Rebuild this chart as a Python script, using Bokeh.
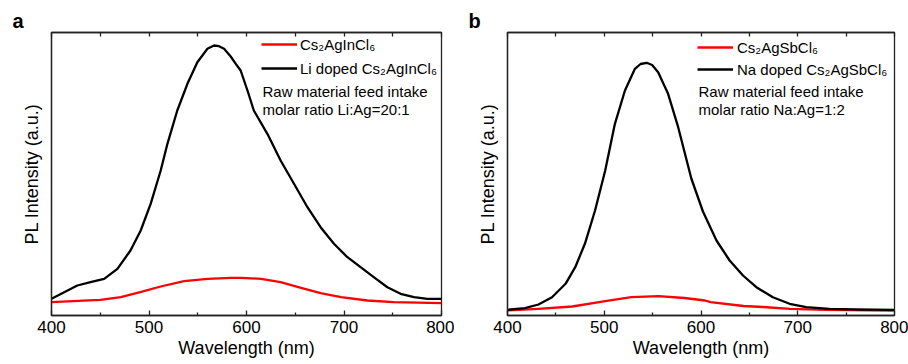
from bokeh.plotting import figure
from bokeh.layouts import row
from bokeh.models import Range1d, LinearAxis, FixedTicker, Label, Legend, LegendItem
from bokeh.embed import file_html
from bokeh.resources import INLINE

# ---------------- data ----------------
# Panel a
a_black_x = [400, 413, 426.5, 440, 454, 467.6, 481, 491.5, 501.7, 512, 518.9, 529, 539.4, 549.6,
             559.9, 566.7, 571.8, 577, 583.8, 589, 594, 601, 607.5, 621.4, 635, 648.7, 662.5,
             676, 689.7, 703.5, 717, 730.5, 744.5, 758, 771.8, 785.5, 800]
a_black_y = [16.7, 23.3, 30, 33.3, 36.7, 46.7, 65, 85, 111.7, 145, 171.7, 205, 231.7, 253.3,
             266.7, 270, 269.3, 266.7, 259, 251.7, 245, 225, 205, 181.7, 155, 131.7, 108.3,
             88.3, 71.7, 58.3, 48.3, 38.3, 28.3, 21.7, 18.3, 16.7, 16.7]
a_red_x = [400, 450, 471, 491, 512, 536, 560, 584, 594, 615, 635, 656, 676, 697, 724, 751, 800]
a_red_y = [13.3, 15.7, 18.3, 23.3, 29, 34.3, 36.7, 37.7, 37.7, 36.7, 33.3, 27.7, 22.3, 18.3,
           15, 13.3, 12.3]

# Panel b
b_black_x = [400, 418, 432, 446, 460, 470, 480, 490.5, 501, 511, 521.4, 531.7, 537.5, 543.8,
             549.5, 555.7, 566, 576.4, 590, 602, 616, 629.6, 643.4, 657.2, 674.3, 691.5, 708.7,
             732.8, 760.3, 800]
b_black_y = [5.7, 7.3, 11, 18.3, 31.7, 48.3, 71.7, 105, 145, 191.7, 225, 246.7, 251.5, 252.7,
             250.5, 243.3, 221.7, 188.3, 137, 104, 75, 55, 40, 28.3, 18.3, 11.7, 8.3,
             6.7, 6, 5.7]
b_red_x = [400, 432, 467, 501, 528, 556, 583, 604, 610, 644, 664, 692, 729, 800]
b_red_y = [5, 6.7, 9, 14.3, 18.3, 19.3, 17.5, 15, 13.3, 9.5, 8.5, 6.7, 5.7, 5]

x_ticks = [400, 500, 600, 700, 800]
x_minor = [450, 550, 650, 750]
top_ticks = [400, 450, 500, 550, 600, 650, 700, 750, 800]

FONT = "Liberation Sans"


def make_panel(letter, bx, by, rx, ry, red_label, black_label, note1, note2,
               left, fw, right, leg_loc, leg_spacing, leg_standoff, note_x):
    p = figure(frame_width=fw, frame_height=283, output_backend="svg",
               toolbar_location=None, x_axis_type=None, y_axis_type=None,
               min_border_left=left, min_border_right=right,
               min_border_top=32, min_border_bottom=49,
               x_range=Range1d(400, 800), y_range=Range1d(0, 283))
    p.background_fill_color = "white"
    p.border_fill_color = "white"
    p.outline_line_color = "#222222"
    p.outline_line_width = 1.3
    p.xgrid.visible = False
    p.ygrid.visible = False

    p.title.text = letter
    p.title.align = "left"
    p.title.offset = -39
    p.title.text_font = FONT
    p.title.text_font_size = "20px"
    p.title.text_font_style = "bold"
    p.title.text_color = "black"
    p.title.standoff = 2

    # bottom axis
    xb = LinearAxis(ticker=FixedTicker(ticks=x_ticks, minor_ticks=x_minor))
    xb.axis_label = "Wavelength (nm)"
    # top axis (ticks only, no labels)
    xt = LinearAxis(ticker=FixedTicker(ticks=[], minor_ticks=top_ticks))
    for ax in (xb, xt):
        ax.axis_line_color = "#222222"
        ax.axis_line_width = 1.3
        ax.major_tick_in = 5
        ax.major_tick_out = 0
        ax.minor_tick_in = 3
        ax.minor_tick_out = 0
        ax.major_tick_line_color = "#222222"
        ax.minor_tick_line_color = "#222222"
        ax.major_tick_line_width = 1.3
        ax.minor_tick_line_width = 1.3
        ax.major_label_text_font = FONT
        ax.major_label_text_color = "black"
        ax.axis_label_text_font = FONT
        ax.axis_label_text_font_style = "normal"
        ax.axis_label_text_color = "black"
    xt.minor_tick_in = 4
    xb.major_label_text_font_size = "17px"
    xb.major_label_standoff = 5
    xb.axis_label_text_font_size = "18px"
    xb.axis_label_standoff = 2
    p.add_layout(xb, "below")
    p.add_layout(xt, "above")

    yl = LinearAxis(ticker=FixedTicker(ticks=[]))
    yl.axis_label = "PL Intensity (a.u.)"
    yl.axis_label_text_font = FONT
    yl.axis_label_text_font_size = "18px"
    yl.axis_label_text_font_style = "normal"
    yl.axis_label_text_color = "black"
    yl.axis_line_color = "#222222"
    yl.axis_line_width = 1.3
    yl.major_tick_line_color = None
    yl.minor_tick_line_color = None
    yl.axis_label_standoff = 10
    p.add_layout(yl, "left")

    r_red = p.line(rx, ry, line_color="#ff0000", line_width=2.3, line_join="round")
    r_black = p.line(bx, by, line_color="black", line_width=2.3, line_join="round")

    leg = Legend(items=[LegendItem(label=red_label, renderers=[r_red]),
                        LegendItem(label=black_label, renderers=[r_black])],
                 location=leg_loc)
    leg.border_line_color = None
    leg.background_fill_alpha = 0
    leg.padding = 0
    leg.margin = 0
    leg.spacing = leg_spacing
    leg.glyph_width = 36
    leg.glyph_height = 20
    leg.label_height = 20
    leg.label_standoff = leg_standoff
    leg.label_text_font = FONT
    leg.label_text_font_size = "15px"
    leg.label_text_color = "black"
    p.add_layout(leg)

    for txt, yy in ((note1, 224), (note2, 206)):
        p.add_layout(Label(x=note_x, y=yy, x_units="screen", y_units="screen", text=txt,
                           text_font=FONT, text_font_size="15px", text_color="black",
                           text_baseline="middle"))
    return p


pa = make_panel("a", a_black_x, a_black_y, a_red_x, a_red_y,
                "Cs₂AgInCl₆", "Li doped Cs₂AgInCl₆",
                "Raw material feed intake", "molar ratio Li:Ag=20:1",
                left=51, fw=390, right=13, leg_loc=(210, 237), leg_spacing=4,
                leg_standoff=3, note_x=211)
pb = make_panel("b", b_black_x, b_black_y, b_red_x, b_red_y,
                "Cs₂AgSbCl₆", "Na doped Cs₂AgSbCl₆",
                "Raw material feed intake", "molar ratio Na:Ag=1:2",
                left=53, fw=387, right=14, leg_loc=(190, 236), leg_spacing=2,
                leg_standoff=4, note_x=191)

layout = row(pa, pb)
open("out.html", "w").write(file_html(layout, INLINE))
